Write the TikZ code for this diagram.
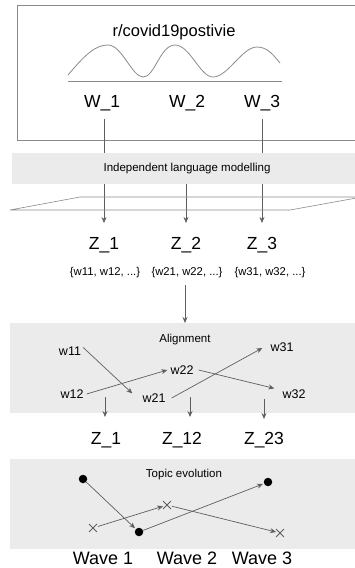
\documentclass[tikz,border=0pt]{standalone}
\usepackage{fontspec}
\setmainfont{Liberation Sans}
\usetikzlibrary{arrows.meta,shapes.misc}
\definecolor{linegray}{HTML}{5E5E5E}
\definecolor{boxgray}{HTML}{8A8A8A}
\definecolor{bandgray}{HTML}{EBEBEB}
\tikzset{
  arr/.style={draw=linegray, line width=0.7pt, -{Stealth[length=6pt,width=5pt]}},
  plainline/.style={draw=boxgray, line width=0.7pt},
  big/.style={font=\fontsize{17.5}{19}\selectfont, inner sep=3pt},
  wavelabel/.style={font=\fontsize{18}{20}\selectfont, inner sep=0pt},
  titlelabel/.style={font=\fontsize{16.5}{18}\selectfont, inner sep=3pt},
  med/.style={font=\fontsize{12.5}{14}\selectfont, inner sep=2pt},
  small/.style={font=\fontsize{11.3}{13}\selectfont, inner sep=2pt},
  bandlabel/.style={font=\fontsize{11.5}{13}\selectfont, inner sep=0pt},
  bandbox/.style={fill=bandgray, draw=none, anchor=north west, inner sep=0pt},
  dotnode/.style={circle, fill=black, inner sep=0pt, minimum size=8.5pt},
  crossnode/.style={cross out, draw=linegray, line width=0.9pt, inner sep=0pt, minimum size=7pt}
}
\begin{document}
\begin{tikzpicture}[x=1pt,y=-1pt]
\useasboundingbox (0,0) rectangle (355,568);
\clip (0,0) rectangle (355,568);
% top box
\node[draw=boxgray, line width=0.8pt, anchor=north west, minimum width=345pt, minimum height=135pt, inner sep=0pt] (topbox) at (17,5) {};
\node[titlelabel] (title) at (174,32) {r/covid19postivie};
\draw[draw=boxgray, line width=0.8pt] (68,75) .. controls (85,55) and (95,45) .. (108,45)
  .. controls (122,45) and (132,77) .. (143,77)
  .. controls (155,77) and (160,45) .. (175,45)
  .. controls (190,45) and (200,77) .. (213,77)
  .. controls (228,77) and (242,47) .. (257,47)
  .. controls (268,47) and (274,56) .. (280,63);
\draw[plainline] (68,81) -- (282,81);
\node[big] (W1) at (102,103) {W\_1};
\node[big] (W2) at (187,103) {W\_2};
\node[big] (W3) at (262,103) {W\_3};
% Z row
\node[big] (Z1) at (104,245) {Z\_1};
\node[big] (Z2) at (186,245) {Z\_2};
\node[big] (Z3) at (262,245) {Z\_3};
% lines from W down
\draw[arr, shorten <=5pt, shorten >=11pt] (W1.south -| Z1) -- (Z1);
\draw[arr, shorten <=5pt, shorten >=11pt] (W3.south -| Z3) -- (Z3);
% band 1
\node[bandbox, minimum width=345pt, minimum height=31pt] (band1) at (12,153) {};
\node[bandlabel] (lab1) at (187,169) {Independent language modelling};
\draw[arr, shorten >=11pt] (Z2 |- band1.south) -- (Z2);
% parallelogram
\coordinate (pbl) at (10,210);
\coordinate (ptl) at (80,197);
\coordinate (ptr) at (362,197);
\coordinate (pbr) at (290,210);
\draw[plainline, line width=0.6pt] (pbl) -- (ptl) -- (ptr) -- (pbr) -- cycle;
% sets
\node[small] (S1) at (105,273) {\{w11, w12, ...\}};
\node[small] (S2) at (187,273) {\{w21, w22, ...\}};
\node[small] (S3) at (270,273) {\{w31, w32, ...\}};
% band 2
\node[bandbox, minimum width=345pt, minimum height=90pt] (band2) at (10,323) {};
\draw[arr, shorten <=5pt] (S2.south -| 185,0) -- (185,0 |- band2.north) coordinate (b2n);
\node[bandlabel] (lab2) at (185,340) {Alignment};
\node[med] (w11) at (70,351) {w11};
\node[med] (w12) at (72,394) {w12};
\node[med] (w21) at (154,398) {w21};
\node[med] (w22) at (182,370) {w22};
\node[med] (w31) at (282,347) {w31};
\node[med] (w32) at (294,394) {w32};
\draw[arr] (w11.north east) ++(0,3) -- ([xshift=-8pt,yshift=-2pt]w21.north west);
\draw[arr] ([xshift=1pt,yshift=0pt]w12.east) -- ([xshift=-1pt]w22.west);
\draw[arr] ([xshift=4pt,yshift=0pt]w21.east) -- ([xshift=-6pt,yshift=-1pt]w31.west);
\draw[arr] ([xshift=3pt]w22.east) -- ([xshift=-6pt,yshift=-1pt]w32.north west);
% Z row 2
\node[big] (Y1) at (106,440) {Z\_1};
\node[big] (Y2) at (182,440) {Z\_12};
\node[big] (Y3) at (264,440) {Z\_23};
\coordinate (d1s) at (105,397);
\coordinate (d2s) at (190,397);
\coordinate (d3s) at (264,399);
\draw[arr] (d1s) -- (d1s |- 0,417);
\draw[arr] (d2s) -- (d2s |- 0,417);
\draw[arr] (d3s) -- (d3s |- 0,419);
% band 3
\node[bandbox, minimum width=345pt, minimum height=90pt] (band3) at (10,459) {};
\node[bandlabel] (lab3) at (184,475) {Topic evolution};
\node[dotnode] (p1) at (83,479) {};
\node[dotnode] (p2) at (139,532) {};
\node[dotnode] (p3) at (268,482) {};
\node[crossnode] (c1) at (93,528) {};
\node[crossnode] (c2) at (167,505) {};
\node[crossnode] (c3) at (280,533) {};
\draw[arr, shorten >=1pt] (p1) -- (p2);
\draw[arr, shorten <=1pt] (c1) -- (c2);
\draw[arr, shorten >=1pt] (p2) -- (p3);
\draw[arr, shorten <=1pt] (c2) -- (c3);
% waves
\node[wavelabel] (wave1) at (103,558.5) {Wave 1};
\node[wavelabel] (wave2) at (187,558.5) {Wave 2};
\node[wavelabel] (wave3) at (262,558.5) {Wave 3};
\end{tikzpicture}
\end{document}
